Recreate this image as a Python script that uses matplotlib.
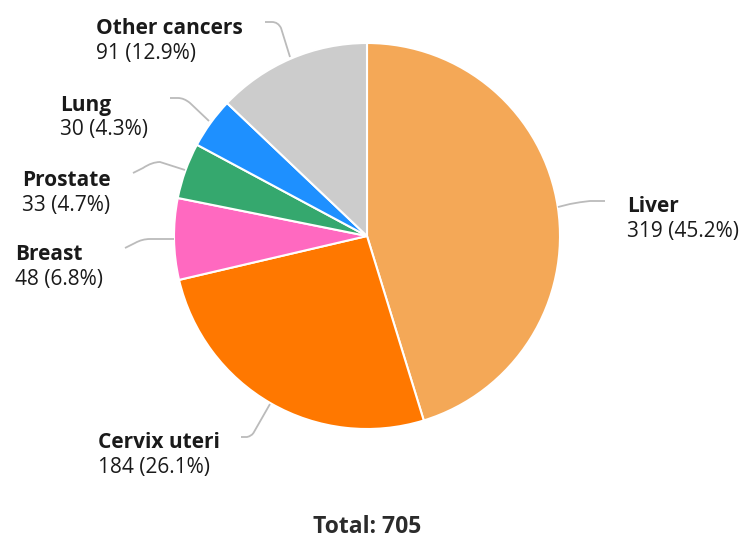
import matplotlib
matplotlib.use('Agg')
import matplotlib.pyplot as plt
from matplotlib.path import Path
from matplotlib.patches import PathPatch

# data
labels = ['Liver', 'Cervix uteri', 'Breast', 'Prostate', 'Lung', 'Other cancers']
values = [319, 184, 48, 33, 30, 91]
pcts = ['45.2%', '26.1%', '6.8%', '4.7%', '4.3%', '12.9%']
colors = ['#F4A857', '#FF7800', '#FF69C0', '#35A86E', '#1E90FF', '#CCCCCC']
total = 705

plt.rcParams['font.family'] = ['Open Sans', 'Noto Sans', 'DejaVu Sans']

W, H = 742, 540
fig = plt.figure(figsize=(W / 100, H / 100), dpi=100)
ax = fig.add_axes([0, 0, 1, 1])
ax.set_xlim(0, W)
ax.set_ylim(0, H)
ax.set_aspect('equal')
ax.axis('off')


def Y(y):
    return H - y


cx, cy, r = 367, 236, 193
ax.pie(values, colors=colors, startangle=90, counterclock=False,
       center=(cx, Y(cy)), radius=r,
       wedgeprops=dict(edgecolor='white', linewidth=1.5))
ax.set_xlim(0, W)
ax.set_ylim(0, H)

# leader lines: start, corner, control, after-corner, end (pixel coords)
leaders = [
    [(605, 201), (590, 201), (580, 202), (570, 204), (558, 207)],   # Liver
    [(241, 437), (247, 437), (252, 436), (254, 432), (270, 404)],   # Cervix
    [(125, 248), (135, 243), (142, 239), (150, 239), (174, 239)],   # Breast
    [(133, 173), (143, 168), (152, 162), (160, 162), (185, 170)],   # Prostate
    [(170, 98), (178, 98), (184, 98), (190, 103), (209, 121)],      # Lung
    [(265, 22), (272, 22), (278, 22), (281, 28), (290, 57)],        # Other
]
for pts in leaders:
    p = [(x, Y(y)) for x, y in pts]
    path = Path([p[0], p[1], p[2], p[3], p[4]],
                [Path.MOVETO, Path.LINETO, Path.CURVE3, Path.CURVE3, Path.LINETO])
    ax.add_patch(PathPatch(path, facecolor='none', edgecolor='#BBBBBB', lw=1.3))

# label positions (left x, label centre y) in pixels
label_pos = [(627, 205), (98, 441), (15, 253), (22, 178), (60, 103), (96, 27)]
for lab, v, pc, (x, y) in zip(labels, values, pcts, label_pos):
    ax.text(x, Y(y + 2), lab, fontsize=15, fontweight='bold', color='#1a1a1a',
            ha='left', va='center')
    ax.text(x, Y(y + 27), f'{v} ({pc})', fontsize=15, color='#1a1a1a',
            ha='left', va='center')

ax.text(cx, Y(527), f'Total: {total}', fontsize=16.5, fontweight='bold',
        color='#2b2b2b', ha='center', va='center')

fig.savefig('out.png', dpi=100)
